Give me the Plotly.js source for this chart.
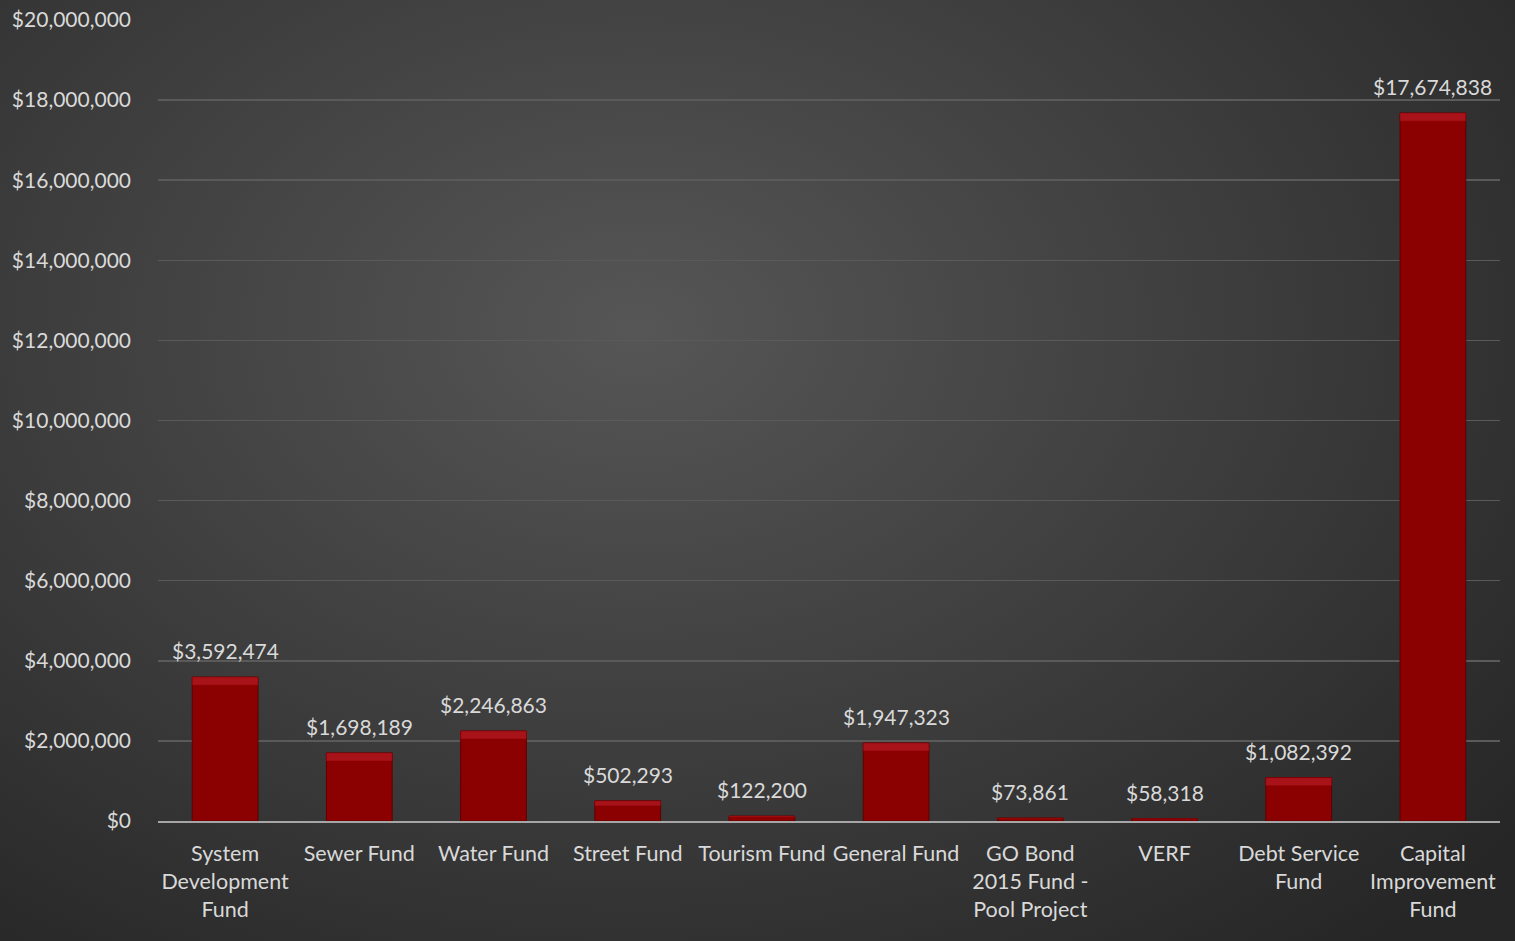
<!DOCTYPE html>
<html>
<head>
<meta charset="utf-8">
<script src="https://cdn.plot.ly/plotly-3.0.1.min.js"></script>
<style>
  html, body { margin: 0; padding: 0; width: 1515px; height: 941px; overflow: hidden; }
  body { background: radial-gradient(ellipse 75% 85% at 42% 35%, #565656 0%, #3c3c3c 55%, #262626 100%); }
  #chart { width: 1515px; height: 941px; }
</style>
</head>
<body>
<div id="chart"></div>
<script>
const categories = [
  "System<br>Development<br>Fund",
  "Sewer Fund",
  "Water Fund",
  "Street Fund",
  "Tourism Fund",
  "General Fund",
  "GO Bond<br>2015 Fund -<br>Pool Project",
  "VERF",
  "Debt Service<br>Fund",
  "Capital<br>Improvement<br>Fund"
];
const values = [3592474, 1698189, 2246863, 502293, 122200, 1947323, 73861, 58318, 1082392, 17674838];
const yTickValues = [0, 2000000, 4000000, 6000000, 8000000, 10000000, 12000000, 14000000, 16000000, 18000000, 20000000];

const FONT = "Lato, 'Open Sans', sans-serif";
const TXT = "#d9d9d9";

const bevel = values.map(v => Math.min(v * 0.25, 200000));
const bevelBase = values.map((v, i) => v - bevel[i]);

const traces = [
  {
    type: "bar",
    x: categories,
    y: values,
    marker: { color: "#8b0000", line: { color: "#600000", width: 1 } },
    hoverinfo: "skip"
  },
  {
    type: "bar",
    x: categories,
    y: bevel,
    base: bevelBase,
    marker: { color: "#a8131a", line: { color: "#8b0000", width: 0.5 } },
    hoverinfo: "skip"
  }
];

const annotations = values.map((v, i) => ({
  x: categories[i],
  y: v,
  xref: "x",
  yref: "y",
  text: "$" + v.toLocaleString("en-US"),
  showarrow: false,
  yanchor: "bottom",
  yshift: 12,
  font: { family: FONT, size: 21, color: TXT }
}));

const layout = {
  width: 1515,
  height: 941,
  margin: { l: 158, r: 15, t: 20, b: 120 },
  paper_bgcolor: "rgba(0,0,0,0)",
  plot_bgcolor: "rgba(0,0,0,0)",
  barmode: "overlay",
  bargap: 0.51,
  showlegend: false,
  font: { family: FONT, size: 21, color: TXT },
  xaxis: {
    type: "category",
    tickfont: { family: FONT, size: 21.5, color: TXT },
    showgrid: false,
    showline: true,
    linecolor: "#a6a6a6",
    linewidth: 2,
    ticks: "",
    ticklabelstandoff: 12,
    fixedrange: true
  },
  yaxis: {
    range: [0, 20000000],
    tickvals: yTickValues,
    tickformat: "$,",
    tickfont: { family: FONT, size: 21, color: TXT },
    showgrid: true,
    gridcolor: "#5a5a5a",
    gridwidth: 1.5,
    zeroline: false,
    showline: false,
    ticks: "",
    ticklabelstandoff: 26,
    fixedrange: true
  },
  annotations: annotations
};

Plotly.newPlot("chart", traces, layout, { displayModeBar: false, staticPlot: true });
</script>
</body>
</html>
